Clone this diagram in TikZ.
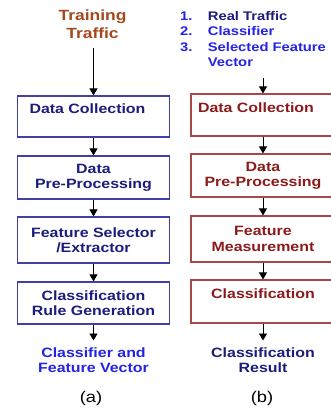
\documentclass[tikz,border=0pt]{standalone}
\usepackage{fontspec}
\setmainfont[FakeStretch=1.18]{Liberation Sans}
\usetikzlibrary{arrows.meta}
\definecolor{ttbrown}{RGB}{163,73,30}
\definecolor{navyt}{RGB}{28,28,124}
\definecolor{lborder}{RGB}{64,64,168}
\definecolor{rborder}{RGB}{168,72,72}
\definecolor{redt}{RGB}{139,26,26}
\definecolor{bluet}{RGB}{35,35,230}
\begin{document}
\begin{tikzpicture}[x=1pt,y=-1pt,
  boxfont/.style={font=\bfseries\fontsize{13.5}{15.4}\selectfont},
  lbox/.style={boxfont, draw=lborder, line width=1.2pt, text=navyt, align=center, minimum width=152pt, inner sep=0pt},
  rbox/.style={boxfont, draw=rborder, line width=1.2pt, text=redt, align=center, minimum width=144pt, inner sep=0pt},
  lbl/.style={boxfont, inner sep=0pt, align=center},
  captionlbl/.style={inner sep=0pt, font=\fontsize{15.5}{17}\selectfont},
  arr/.style={-{Triangle[width=8pt,length=7pt]}, line width=0.9pt, black}]
\useasboundingbox (0,0) rectangle (330,409);
% column (a)
\node[lbl, text=ttbrown, font=\bfseries\fontsize{14.8}{18.3}\selectfont] (tt) at (92.5,24.5) {Training\\Traffic};
\node[lbox, minimum height=41pt] (l1) at (93.5,116.5) {Data Collection\hspace*{12pt}\\\mbox{}};
\node[lbox, minimum height=43pt] (l2) at (93.5,177.5) {Data\\Pre-Processing};
\node[lbox, minimum height=46pt] (l3) at (93.5,240) {Feature Selector\\/Extractor};
\node[lbox, minimum height=42pt] (l4) at (93.5,303) {Classification\\Rule Generation};
\node[lbl, text=bluet, anchor=north] (outa) at (93.5,347.5) {Classifier and\\Feature Vector};
\node[captionlbl] (capa) at (91,398.5) {(a)};
\draw[arr, shorten <=9pt] (l1.north |- tt.south) -- (l1.north);
\draw[arr] (l1) -- (l2);
\draw[arr] (l2) -- (l3);
\draw[arr] (l3) -- (l4);
\draw[arr, shorten >=7pt] (l4) -- (outa);
% column (b)
\node[lbl, text=bluet, anchor=north west, align=left, font=\bfseries\fontsize{12.5}{15.5}\selectfont] (list) at (180,11)
  {\makebox[27.7pt][l]{1.}\textcolor{navyt}{Real Traffic}\\
   \makebox[27.7pt][l]{2.}Classifier\\
   \makebox[27.7pt][l]{3.}Selected Feature\\
   \makebox[27.7pt][l]{}Vector};
\node[rbox, minimum height=42pt] (r1) at (263,115) {Data Collection\hspace*{14pt}\\\mbox{}};
\node[rbox, minimum height=43pt] (r2) at (263,175.5) {Data\\Pre-Processing};
\node[rbox, minimum height=46pt] (r3) at (263,239) {Feature\\Measurement};
\node[rbox, minimum height=43pt] (r4) at (263,301.5) {Classification\\\mbox{}};
\node[lbl, text=navyt, anchor=north] (outb) at (263,347.5) {Classification\\Result};
\node[captionlbl] (capb) at (262,398.5) {(b)};
\draw[arr, shorten <=11pt] (r1.north |- list.south) -- (r1.north);
\draw[arr] (r1) -- (r2);
\draw[arr] (r2) -- (r3);
\draw[arr] (r3) -- (r4);
\draw[arr, shorten >=7pt] (r4) -- (outb);
\end{tikzpicture}
\end{document}
